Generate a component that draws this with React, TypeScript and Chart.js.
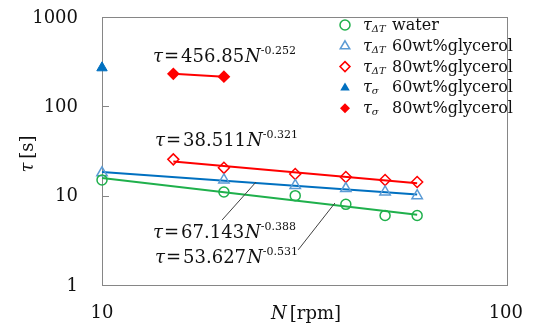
import React, { useEffect, useRef } from "react";
import { Chart, registerables } from "chart.js";

Chart.register(...registerables);

// ---- data ----
const waterN = [10, 20, 30, 40, 50, 60];
const waterTau = [15, 11, 10, 8, 6, 6];
const gly60N = [10, 20, 30, 40, 50, 60];
const gly60Tau = [18, 15, 13, 12, 11, 10];
const gly80N = [15, 20, 30, 40, 50, 60];
const gly80Tau = [25.5, 20.5, 17.5, 16.2, 15, 14.2];
const sigma60N = [10];
const sigma60Tau = [270];
const sigma80N = [15, 20];
const sigma80Tau = [231, 215];

// trend lines (end points)
const trendWaterN = [10, 60];
const trendWaterTau = [15.8, 6.1];
const trend60N = [10, 60];
const trend60Tau = [18.4, 10.3];
const trend80N = [15, 60];
const trend80Tau = [24.2, 13.8];

const xTicks = [10, 100];
const yTicks = [1, 10, 100, 1000];

const legendLabels = [
  { sub: "ΔT", text: "water" },
  { sub: "ΔT", text: "60wt%glycerol" },
  { sub: "ΔT", text: "80wt%glycerol" },
  { sub: "σ", text: "60wt%glycerol" },
  { sub: "σ", text: "80wt%glycerol" },
];

const equationCoefs = ["456.85", "38.511", "67.143", "53.627"];
const equationExps = ["-0.252", "-0.321", "-0.388", "-0.531"];
// anchor (N, tau) for the left/baseline of each equation text
const equationAnchorN = [13.37, 13.52, 13.37, 13.52];
const equationAnchorTau = [314, 36, 3.36, 1.76];

// leader lines from equation labels to trend lines
const leaderFromN = [19.8, 30.5];
const leaderFromTau = [5.35, 2.47];
const leaderToN = [24.0, 37.6];
const leaderToTau = [14.2, 8.28];

const GREEN = "#1fb04c";
const BLUE_LIGHT = "#5b9bd5";
const BLUE = "#0070c0";
const RED = "#ff0000";
const FONT = "DejaVu Serif";

const pts = (xs: number[], ys: number[]) => xs.map((x, i) => ({ x, y: ys[i] }));

type Part = { t: string; f: string; dy?: number; gap?: number };

function drawParts(ctx: CanvasRenderingContext2D, parts: Part[], x: number, y: number) {
  let cx = x;
  for (const p of parts) {
    cx += p.gap || 0;
    ctx.font = p.f;
    ctx.fillText(p.t, cx, y + (p.dy || 0));
    cx += ctx.measureText(p.t).width;
  }
  return cx - x;
}

function measureParts(ctx: CanvasRenderingContext2D, parts: Part[]) {
  let w = 0;
  for (const p of parts) {
    ctx.font = p.f;
    w += (p.gap || 0) + ctx.measureText(p.t).width;
  }
  return w;
}

function drawMarker(
  ctx: CanvasRenderingContext2D,
  kind: string,
  x: number,
  y: number,
  r: number,
  color: string,
  filled: boolean
) {
  ctx.save();
  ctx.beginPath();
  if (kind === "circle") {
    ctx.arc(x, y, r, 0, Math.PI * 2);
  } else if (kind === "triangle") {
    ctx.moveTo(x, y - r);
    ctx.lineTo(x + r * 0.95, y + r * 0.6);
    ctx.lineTo(x - r * 0.95, y + r * 0.6);
    ctx.closePath();
  } else {
    ctx.moveTo(x, y - r);
    ctx.lineTo(x + r, y);
    ctx.lineTo(x, y + r);
    ctx.lineTo(x - r, y);
    ctx.closePath();
  }
  ctx.lineWidth = 1.5;
  if (filled) {
    ctx.fillStyle = color;
    ctx.fill();
  } else {
    ctx.fillStyle = "#fff";
    ctx.fill();
    ctx.strokeStyle = color;
    ctx.stroke();
  }
  ctx.restore();
}

const framePlugin = {
  id: "frame",
  beforeDatasetsDraw(chart: any) {
    const { ctx, chartArea: a, scales } = chart;
    ctx.save();
    ctx.strokeStyle = "#868686";
    ctx.lineWidth = 1;
    ctx.strokeRect(a.left + 0.5, a.top + 0.5, a.right - a.left, a.bottom - a.top);
    ctx.beginPath();
    for (const v of yTicks) {
      const py = Math.round(scales.y.getPixelForValue(v)) + 0.5;
      ctx.moveTo(a.left, py);
      ctx.lineTo(a.left + 7, py);
    }
    ctx.stroke();
    ctx.restore();
  },
  afterDraw(chart: any) {
    const { ctx, chartArea: a, scales } = chart;
    const xs = scales.x;
    const ys = scales.y;
    ctx.save();
    ctx.fillStyle = "#111";

    // tick labels
    ctx.font = `18px ${FONT}`;
    ctx.textBaseline = "middle";
    ctx.textAlign = "right";
    for (const v of yTicks) {
      ctx.fillText(String(v), a.left - 24, ys.getPixelForValue(v) + 1);
    }
    ctx.textAlign = "left";
    for (const v of xTicks) {
      const s = String(v);
      const w = ctx.measureText(s).width;
      let lx = xs.getPixelForValue(v) - w / 2;
      if (lx + w > 523) lx = 523 - w;
      ctx.fillText(s, lx, a.bottom + 28);
    }

    ctx.textBaseline = "alphabetic";
    ctx.textAlign = "left";

    // leader lines
    ctx.strokeStyle = "#404040";
    ctx.lineWidth = 1;
    for (let i = 0; i < leaderFromN.length; i++) {
      ctx.beginPath();
      ctx.moveTo(xs.getPixelForValue(leaderFromN[i]), ys.getPixelForValue(leaderFromTau[i]));
      ctx.lineTo(xs.getPixelForValue(leaderToN[i]), ys.getPixelForValue(leaderToTau[i]));
      ctx.stroke();
    }

    // equations
    for (let i = 0; i < equationCoefs.length; i++) {
      const x = xs.getPixelForValue(equationAnchorN[i]);
      const y = ys.getPixelForValue(equationAnchorTau[i]);
      drawParts(
        ctx,
        [
          { t: "τ", f: `italic 18px ${FONT}` },
          { t: "=", f: `18px ${FONT}`, gap: 1 },
          { t: equationCoefs[i], f: `18px ${FONT}`, gap: 2 },
          { t: "N", f: `italic 18px ${FONT}`, gap: 1 },
          { t: equationExps[i], f: `11px ${FONT}`, dy: -8, gap: 0 },
        ],
        x,
        y
      );
    }

    // legend
    const kinds = ["circle", "triangle", "diamond", "triangle", "diamond"];
    const colors = [GREEN, BLUE_LIGHT, RED, BLUE, RED];
    const filled = [false, false, false, true, true];
    const rowY0 = a.top + 8;
    const rowH = 20.8;
    for (let i = 0; i < legendLabels.length; i++) {
      const cy = rowY0 + i * rowH;
      drawMarker(ctx, kinds[i], 345, cy, 5, colors[i], filled[i]);
      ctx.fillStyle = "#111";
      const base = cy + 5;
      drawParts(
        ctx,
        [
          { t: "τ", f: `italic 16px ${FONT}` },
          { t: legendLabels[i].sub, f: `italic 10px ${FONT}`, dy: 2 },
        ],
        363,
        base
      );
      ctx.font = `16px ${FONT}`;
      ctx.fillText(legendLabels[i].text, 392, base);
    }

    // x title
    const xParts: Part[] = [
      { t: "N", f: `italic 18px ${FONT}` },
      { t: "[rpm]", f: `18px ${FONT}`, gap: 3 },
    ];
    const xw = measureParts(ctx, xParts);
    drawParts(ctx, xParts, 306 - xw / 2, a.bottom + 34);

    // y title
    const yParts: Part[] = [
      { t: "τ", f: `italic 18px ${FONT}` },
      { t: "[s]", f: `18px ${FONT}`, gap: 4 },
    ];
    const yw = measureParts(ctx, yParts);
    ctx.save();
    ctx.translate(33, 154);
    ctx.rotate(-Math.PI / 2);
    drawParts(ctx, yParts, -yw / 2, 0);
    ctx.restore();

    ctx.restore();
  },
};

export default function App() {
  const ref = useRef<HTMLCanvasElement>(null);
  useEffect(() => {
    document.body.style.margin = "0";
    const canvas = ref.current;
    if (!canvas) return;
    const lineDs = (data: any, color: string) => ({
      type: "line" as const,
      data,
      borderColor: color,
      borderWidth: 2,
      pointRadius: 0,
      fill: false,
      clip: false,
    });
    const chart = new Chart(canvas, {
      type: "scatter",
      data: {
        datasets: [
          {
            data: pts(sigma60N, sigma60Tau),
            pointStyle: "triangle",
            pointRadius: 6,
            backgroundColor: BLUE,
            borderColor: BLUE,
            borderWidth: 1,
            clip: false,
          },
          {
            type: "line",
            data: pts(sigma80N, sigma80Tau),
            pointStyle: "rectRot",
            pointRadius: 5,
            pointBackgroundColor: RED,
            pointBorderColor: RED,
            borderColor: RED,
            borderWidth: 2,
            fill: false,
            clip: false,
          },
          {
            data: pts(waterN, waterTau),
            pointStyle: "circle",
            pointRadius: 5,
            backgroundColor: "rgba(255,255,255,0)",
            borderColor: GREEN,
            borderWidth: 1.5,
            clip: false,
          },
          {
            data: pts(gly60N, gly60Tau),
            pointStyle: "triangle",
            pointRadius: 6,
            backgroundColor: "rgba(255,255,255,0)",
            borderColor: BLUE_LIGHT,
            borderWidth: 1.5,
            clip: false,
          },
          {
            data: pts(gly80N, gly80Tau),
            pointStyle: "rectRot",
            pointRadius: 5.5,
            backgroundColor: "rgba(255,255,255,0)",
            borderColor: RED,
            borderWidth: 1.5,
            clip: false,
          },
          lineDs(pts(trendWaterN, trendWaterTau), GREEN),
          lineDs(pts(trend60N, trend60Tau), BLUE),
          lineDs(pts(trend80N, trend80Tau), RED),
        ] as any,
      },
      options: {
        responsive: false,
        animation: false,
        events: [],
        layout: { padding: { left: 0, right: 26, top: 17, bottom: 0 } },
        plugins: { legend: { display: false }, tooltip: { enabled: false } },
        scales: {
          x: {
            type: "logarithmic",
            min: 10,
            max: 100,
            afterBuildTicks: (s: any) => {
              s.ticks = xTicks.map((v) => ({ value: v }));
            },
            afterFit: (s: any) => {
              s.height = 46;
            },
            grid: { display: false, drawTicks: false },
            border: { display: false },
            ticks: { display: false },
          },
          y: {
            type: "logarithmic",
            min: 1,
            max: 1000,
            afterBuildTicks: (s: any) => {
              s.ticks = yTicks.map((v) => ({ value: v }));
            },
            afterFit: (s: any) => {
              s.width = 102;
            },
            grid: { display: false, drawTicks: false },
            border: { display: false },
            ticks: { display: false },
          },
        },
      },
      plugins: [framePlugin],
    });
    return () => chart.destroy();
  }, []);
  return <canvas ref={ref} width={533} height={331} style={{ display: "block" }} />;
}
